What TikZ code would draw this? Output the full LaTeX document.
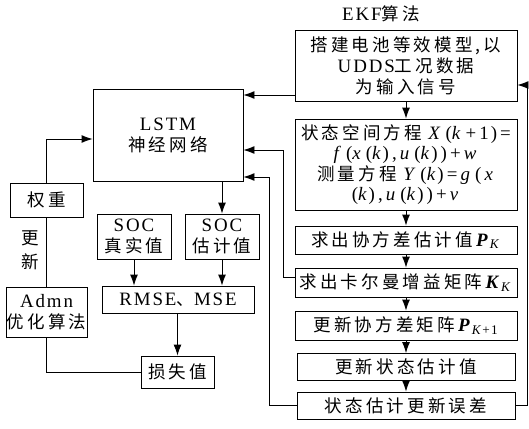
\documentclass[tikz,border=0pt]{standalone}
\usepackage{fontspec}
\setmainfont{Liberation Serif}[LetterSpace=10,Scale=1.08]
\newfontfamily\cjk{Noto Sans CJK SC}[LetterSpace=18]
\newcommand{\zh}[1]{{\cjk #1}}
\newcommand{\mi}[1]{\textit{#1}}
\usetikzlibrary{arrows.meta,calc}
\tikzset{
  box/.style={draw,line width=0.9pt,rectangle,inner sep=0pt,align=center,font=\fontsize{17.5}{21}\selectfont},
  lab/.style={inner sep=0pt,align=center,font=\fontsize{17.5}{21}\selectfont},
  ln/.style={line width=0.9pt},
  arr/.style={line width=0.9pt,-{Latex[length=11pt,width=8pt]}}
}
\begin{document}
\begin{tikzpicture}[x=1pt,y=-1pt]
\useasboundingbox (0,0) rectangle (529,428);
% EKF column
\node[lab] (ekf) at (381,14) {EKF\zh{算法}};
\node[box,minimum width=222pt,minimum height=71pt] (b1) at (406,65.5)
  {\zh{搭建电池等效模型,以}\\UDDS\zh{工况数据}\\\zh{为输入信号}};
\node[box,minimum width=222pt,minimum height=91pt,font=\fontsize{17.5}{20.5}\selectfont] (b2) at (406,164.5)
  {\zh{状态空间方程} \mi{X}\,(\mi{k}\,+\,1)\,=\\
   \mi{f}\,(\mi{x}\,(\mi{k})\,,\,\mi{u}\,(\mi{k})\,)\,+\,\mi{w}\\
   \zh{测量方程} \mi{Y}\,(\mi{k})\,=\,\mi{g}\,(\,\mi{x}\\
   (\mi{k})\,,\,\mi{u}\,(\mi{k})\,)\,+\,\mi{v}};
\node[box,minimum width=222pt,minimum height=28pt] (b3) at (406,240)
  {\zh{求出协方差估计值}\,\textbf{\textit{P}}\textsubscript{\textit{K}}};
\node[box,minimum width=222pt,minimum height=29pt] (b4) at (406,282.5)
  {\zh{求出卡尔曼增益矩阵}\,\textbf{\textit{K}}\textsubscript{\textit{K}}};
\node[box,minimum width=222pt,minimum height=29pt] (b5) at (406,325.5)
  {\zh{更新协方差矩阵}\,\textbf{\textit{P}}\textsubscript{\textit{K}+1}};
\node[box,minimum width=218pt,minimum height=27pt] (b6) at (406,367)
  {\zh{更新状态估计值}};
\node[box,minimum width=218pt,minimum height=27pt] (b7) at (406,405.5)
  {\zh{状态估计更新误差}};
% left part
\node[box,minimum width=150pt,minimum height=92pt] (lstm) at (168,135)
  {LSTM\\\zh{神经网络}};
\node[box,minimum width=73pt,minimum height=34pt] (qz) at (46.5,200) {\zh{权重}};
\node[lab,font=\fontsize{17.5}{24}\selectfont] (gx) at (30,250) {\zh{更}\\\zh{新}};
\node[box,minimum width=81pt,minimum height=50pt] (ad) at (46.5,312)
  {Admn\\\zh{优化算法}};
\node[box,minimum width=74pt,minimum height=45pt] (s1) at (134,236.5)
  {SOC\\\zh{真实值}};
\node[box,minimum width=74pt,minimum height=45pt] (s2) at (222,236.5)
  {SOC\\\zh{估计值}};
\node[box,minimum width=152pt,minimum height=27pt] (rm) at (178,299.5)
  {RMSE\zh{、}MSE};
\node[box,minimum width=73pt,minimum height=32pt] (loss) at (177.5,372)
  {\zh{损失值}};
% helper coordinates
\coordinate (b1l) at ([yshift=-29.5pt]b1.west);
\coordinate (b1r) at ([yshift=-19.5pt]b1.east);
\coordinate (b4l) at ([yshift=5pt]b4.west);
\coordinate (c1) at (283,150);
\coordinate (c2) at (269,177);
\coordinate (c3) at (527,85);
\coordinate (c4) at (46.5,139);
% EKF chain
\draw[arr] (b1.south) -- (b2.north);
\draw[arr] (b2.south) -- (b3.north);
\draw[arr] (b3.south) -- (b4.north);
\draw[arr] (b4.south) -- (b5.north);
\draw[arr] (b5.south) -- (b6.north);
\draw[arr] (b6.south) -- (b7.north);
\draw[arr] (b7.east) -| (c3) -- (b1r);
% into LSTM
\draw[arr] (b1l) -- (b1l -| lstm.east);
\draw[arr] (b4l) -| (c1) -- (c1 -| lstm.east);
\draw[arr] (b7.west) -| (c2) -- (c2 -| lstm.east);
\draw[arr] (qz.north) -- (c4) -- (c4 -| lstm.west);
\draw[ln] (qz.south) -- (ad.north);
\draw[ln] (ad.south) |- (loss.west);
\draw[arr] (lstm.south -| s2.north) -- (s2.north);
\draw[arr] (s1.south) -- (s1.south |- rm.north);
\draw[arr] (s2.south) -- (s2.south |- rm.north);
\draw[arr] (loss.north |- rm.south) -- (loss.north);
\end{tikzpicture}
\end{document}
